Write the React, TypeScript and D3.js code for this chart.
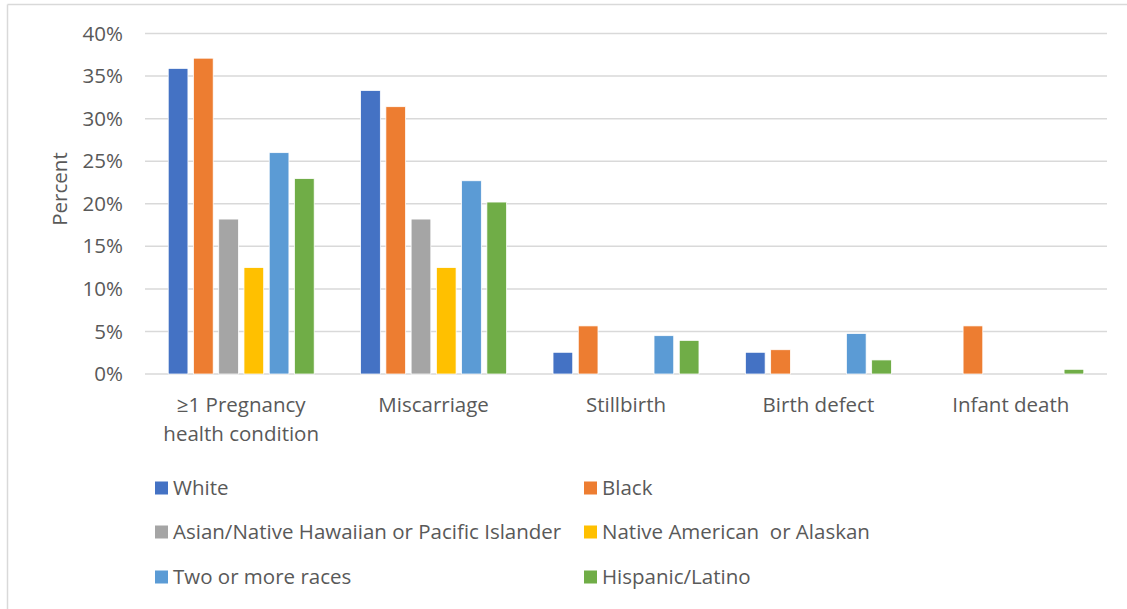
import React from "react";
import * as d3 from "d3";

const categories = ["≥1 Pregnancy health condition", "Miscarriage", "Stillbirth", "Birth defect", "Infant death"];
const categoryLines = [["≥1 Pregnancy", "health condition"], ["Miscarriage"], ["Stillbirth"], ["Birth defect"], ["Infant death"]];
const seriesNames = [
  "White",
  "Black",
  "Asian/Native Hawaiian or Pacific Islander",
  "Native American  or Alaskan",
  "Two or more races",
  "Hispanic/Latino",
];
const seriesColors = ["#4472C4", "#ED7D31", "#A5A5A5", "#FFC000", "#5B9BD5", "#70AD47"];
const white = [35.9, 33.3, 2.55, 2.55, null];
const black = [37.1, 31.4, 5.65, 2.85, 5.65];
const asian = [18.2, 18.2, null, null, null];
const nativeAm = [12.5, 12.5, null, null, null];
const twoOrMore = [26.0, 22.7, 4.5, 4.75, null];
const hispanic = [22.95, 20.2, 3.95, 1.65, 0.55];
const seriesValues = [white, black, asian, nativeAm, twoOrMore, hispanic];
const yTicks = [0, 5, 10, 15, 20, 25, 30, 35, 40];

const FONT = "'Open Sans', Lato, sans-serif";
const TEXT = "#595959";
const FS = 20.5;

export default function App() {
  const W = 1127, H = 609;
  const x0 = d3.scaleBand<string>().domain(categories).range([145, 1107]).padding(0);
  const x1 = d3.scaleBand<string>().domain(seriesNames).range([0, x0.bandwidth()]).paddingInner(0.22).paddingOuter(0.92);
  const y = d3.scaleLinear().domain([0, 40]).range([374, 33.5]);

  const legendCols = [157, 586];
  const legendRows = [488, 532, 577];

  return (
    <svg width={W} height={H} style={{ position: "absolute", left: 0, top: 0, background: "#fff" }} fontFamily={FONT}>
      <rect x={0} y={0} width={W} height={H} fill="#fff" />
      <line x1={7.5} y1={4.5} x2={W} y2={4.5} stroke="#d9d9d9" strokeWidth={1.5} />
      <line x1={7.5} y1={4.5} x2={7.5} y2={H} stroke="#d9d9d9" strokeWidth={1.5} />

      {yTicks.map((t) => (
        <g key={t}>
          <line x1={145} x2={1107} y1={y(t)} y2={y(t)} stroke="#d9d9d9" strokeWidth={1.5} />
          <text x={123} y={y(t)} dy="0.35em" textAnchor="end" fontSize={FS} fill={TEXT}>
            {t}%
          </text>
        </g>
      ))}

      <text transform={`translate(67,189) rotate(-90)`} textAnchor="middle" fontSize={FS} fill={TEXT}>
        Percent
      </text>

      {seriesValues.map((vals, si) =>
        vals.map((v, ci) =>
          v == null ? null : (
            <rect
              key={`${si}-${ci}`}
              x={(x0(categories[ci]) as number) + (x1(seriesNames[si]) as number)}
              y={y(v)}
              width={x1.bandwidth()}
              height={y(0) - y(v)}
              fill={seriesColors[si]}
              stroke="#fff"
              strokeWidth={0.75}
            />
          )
        )
      )}

      {categories.map((c, ci) => {
        const cx = (x0(c) as number) + x0.bandwidth() / 2;
        return (
          <text key={c} x={cx} y={405} textAnchor="middle" fontSize={FS} fill={TEXT}>
            {categoryLines[ci].map((l, li) => (
              <tspan key={li} x={cx} dy={li === 0 ? "0.35em" : 29}>
                {l}
              </tspan>
            ))}
          </text>
        );
      })}

      {seriesNames.map((s, i) => {
        const lx = legendCols[i % 2];
        const ly = legendRows[Math.floor(i / 2)];
        return (
          <g key={s}>
            <rect x={lx - 2} y={ly - 6.5} width={13} height={13} fill={seriesColors[i]} />
            <text x={lx + 16} y={ly} dy="0.35em" fontSize={FS} fill={TEXT} style={{ whiteSpace: "pre" }}>
              {s}
            </text>
          </g>
        );
      })}
    </svg>
  );
}
